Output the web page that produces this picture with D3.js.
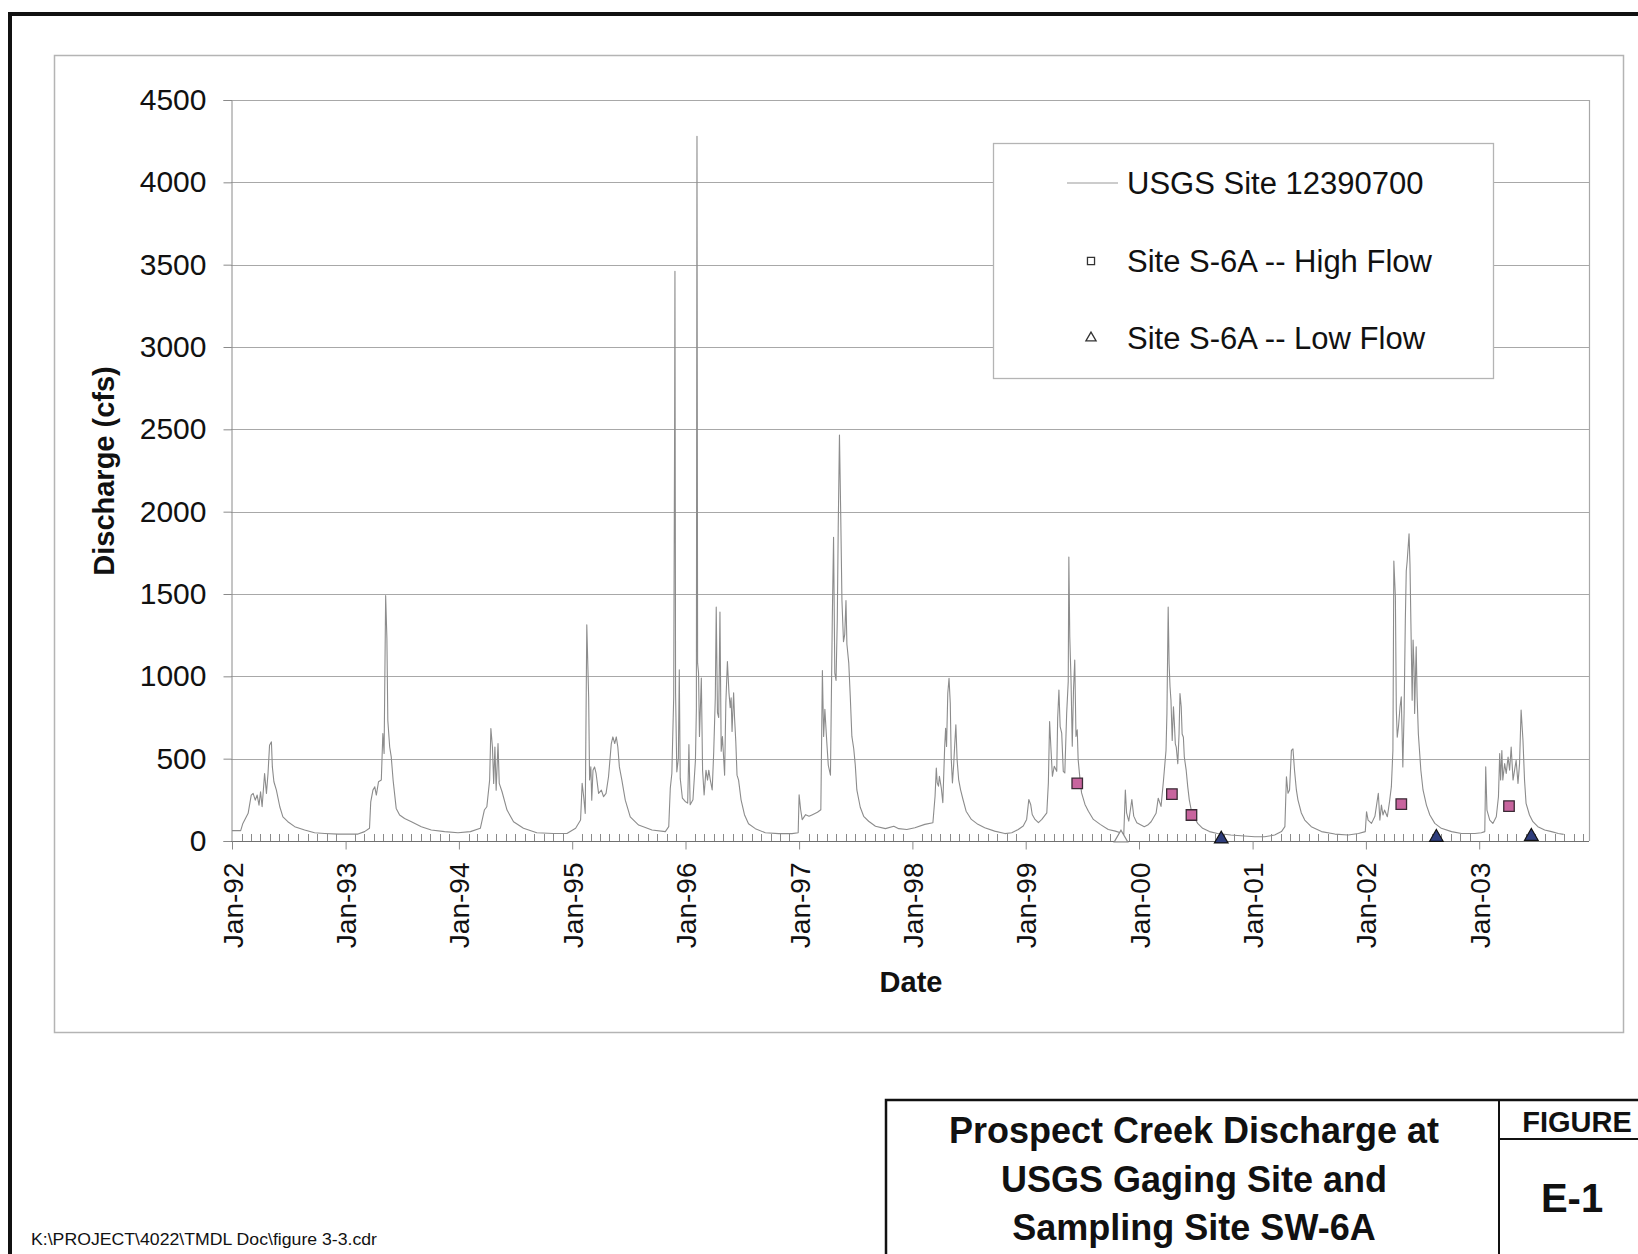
<!DOCTYPE html>
<html><head><meta charset="utf-8">
<script src="https://cdn.jsdelivr.net/npm/d3@7"></script>
<style>body{margin:0;background:#fff;} svg{display:block;font-family:"Liberation Sans",Arial,Helvetica,sans-serif;}</style>
</head><body><svg id="c" width="1638" height="1254"></svg>
<script>
// ---------- DATA ----------
const usgsDischarge = [
["1992-01-01",63],["1992-01-29",63],["1992-02-05",107],["1992-02-22",168],["1992-03-03",279],["1992-03-09",289],["1992-03-16",248],["1992-03-22",279],["1992-03-28",218],["1992-04-02",299],["1992-04-07",208],["1992-04-15",410],["1992-04-21",289],["1992-04-26",410],["1992-05-01",582],["1992-05-07",602],["1992-05-10",450],["1992-05-15",360],["1992-05-23",309],["1992-06-03",208],["1992-06-13",147],["1992-06-29",117],["1992-07-21",87],["1992-08-22",67],["1992-09-23",50],["1992-10-26",46],["1992-12-08",42],
["1993-02-10",42],["1993-03-03",57],["1993-03-19",77],["1993-03-23",238],["1993-03-30",309],["1993-04-05",329],["1993-04-10",279],["1993-04-17",360],["1993-04-26",370],["1993-05-01",653],["1993-05-05",531],["1993-05-10",1490],["1993-05-14",1232],["1993-05-17",731],["1993-05-23",571],["1993-05-28",511],["1993-06-03",370],["1993-06-13",198],["1993-06-24",158],["1993-07-10",137],["1993-08-01",117],["1993-09-02",87],["1993-10-04",67],["1993-11-16",57],["1993-12-29",50],
["1994-02-07",57],["1994-03-11",77],["1994-03-24",188],["1994-04-01",208],["1994-04-10",370],["1994-04-14",683],["1994-04-19",571],["1994-04-23",350],["1994-04-27",571],["1994-05-01",309],["1994-05-07",592],["1994-05-11",350],["1994-05-20",299],["1994-06-05",188],["1994-06-26",117],["1994-07-28",77],["1994-09-09",50],["1994-11-02",46],["1994-12-15",46],
["1995-01-12",77],["1995-01-28",127],["1995-02-02",350],["1995-02-07",269],["1995-02-12",168],["1995-02-17",1313],["1995-02-23",875],["1995-02-26",370],["1995-03-02",450],["1995-03-05",248],["1995-03-09",430],["1995-03-14",450],["1995-03-19",410],["1995-03-27",289],["1995-04-05",309],["1995-04-12",269],["1995-04-20",289],["1995-04-28",390],["1995-05-07",592],["1995-05-12",632],["1995-05-18",592],["1995-05-23",632],["1995-05-28",571],["1995-06-02",450],["1995-06-10",370],["1995-06-21",248],["1995-07-07",147],["1995-08-03",97],["1995-09-15",67],["1995-10-28",57],["1995-11-08",87],["1995-11-13",320],["1995-11-18",410],["1995-11-24",875],["1995-11-27",2550],["1995-11-28",3460],["1995-11-30",900],["1995-12-04",420],["1995-12-09",500],["1995-12-12",1040],["1995-12-15",380],["1995-12-22",260],["1995-12-31",240],
["1996-01-08",230],["1996-01-12",585],["1996-01-16",220],["1996-01-25",250],["1996-02-02",490],["1996-02-05",800],["1996-02-07",4280],["1996-02-09",1080],["1996-02-12",1020],["1996-02-15",635],["1996-02-21",990],["1996-02-25",430],["1996-03-01",280],["1996-03-07",430],["1996-03-12",370],["1996-03-16",430],["1996-03-21",370],["1996-03-27",310],["1996-04-01",545],["1996-04-06",870],["1996-04-09",1420],["1996-04-13",780],["1996-04-17",750],["1996-04-21",1390],["1996-04-25",545],["1996-04-29",635],["1996-05-06",400],["1996-05-10",840],["1996-05-15",1090],["1996-05-20",900],["1996-05-24",810],["1996-05-27",870],["1996-05-30",665],["1996-06-04",900],["1996-06-07",750],["1996-06-11",605],["1996-06-15",400],["1996-06-20",370],["1996-06-28",250],["1996-07-09",160],["1996-07-22",105],["1996-08-13",75],["1996-09-14",50],["1996-10-27",45],["1996-12-09",45],["1996-12-29",50],
["1997-01-01",280],["1997-01-06",190],["1997-01-11",130],["1997-01-22",160],["1997-02-02",150],["1997-02-13",160],["1997-03-01",175],["1997-03-12",190],["1997-03-17",1035],["1997-03-21",635],["1997-03-25",800],["1997-03-31",605],["1997-04-05",460],["1997-04-12",400],["1997-04-18",1360],["1997-04-22",1845],["1997-04-26",1020],["1997-04-30",975],["1997-05-04",1345],["1997-05-07",1900],["1997-05-11",2465],["1997-05-15",1990],["1997-05-19",1460],["1997-05-24",1210],["1997-05-28",1255],["1997-06-01",1460],["1997-06-04",1195],["1997-06-10",1080],["1997-06-15",870],["1997-06-20",635],["1997-06-26",560],["1997-07-01",460],["1997-07-06",310],["1997-07-17",205],["1997-07-28",150],["1997-08-13",120],["1997-09-04",90],["1997-10-06",75],["1997-11-02",90],["1997-11-18",75],["1997-12-14",70],
["1998-01-09",81],["1998-02-10",101],["1998-03-08",111],["1998-03-15",272],["1998-03-19",443],["1998-03-22",353],["1998-03-26",333],["1998-03-29",393],["1998-04-04",323],["1998-04-09",232],["1998-04-15",574],["1998-04-18",685],["1998-04-21",574],["1998-04-25",897],["1998-04-29",988],["1998-05-03",837],["1998-05-06",504],["1998-05-10",353],["1998-05-14",464],["1998-05-17",574],["1998-05-21",706],["1998-05-25",494],["1998-05-30",373],["1998-06-05",312],["1998-06-13",252],["1998-06-23",181],["1998-07-10",131],["1998-07-31",101],["1998-08-22",81],["1998-09-23",60],["1998-10-26",45],["1998-11-17",50],["1998-12-08",70],["1998-12-24",91],
["1999-01-04",131],["1999-01-11",252],["1999-01-17",222],["1999-01-22",161],["1999-01-31",131],["1999-02-11",111],["1999-02-22",131],["1999-03-10",171],["1999-03-15",353],["1999-03-19",726],["1999-03-23",574],["1999-03-28",393],["1999-04-03",454],["1999-04-11",423],["1999-04-14",746],["1999-04-18",917],["1999-04-22",695],["1999-04-27",655],["1999-05-02",423],["1999-05-07",413],["1999-05-13",776],["1999-05-18",968],["1999-05-20",1724],["1999-05-23",1240],["1999-05-27",978],["1999-05-31",575],["1999-06-04",917],["1999-06-08",1099],["1999-06-12",635],["1999-06-16",675],["1999-06-19",494],["1999-06-25",373],["1999-06-30",292],["1999-07-11",222],["1999-07-22",181],["1999-08-07",131],["1999-08-29",101],["1999-09-24",70],["1999-10-17",60],["1999-11-02",50],["1999-11-13",40],["1999-11-18",310],["1999-11-22",171],["1999-11-29",121],["1999-12-09",252],["1999-12-15",151],["1999-12-25",111],
["2000-01-18",87],["2000-01-29",97],["2000-02-09",117],["2000-02-25",168],["2000-03-03",260],["2000-03-12",210],["2000-03-20",370],["2000-03-28",550],["2000-03-31",775],["2000-04-04",1420],["2000-04-07",1075],["2000-04-10",935],["2000-04-13",855],["2000-04-17",610],["2000-04-21",815],["2000-04-24",715],["2000-04-27",590],["2000-04-30",570],["2000-05-05",470],["2000-05-09",650],["2000-05-12",895],["2000-05-16",815],["2000-05-19",650],["2000-05-23",630],["2000-05-26",510],["2000-06-01",430],["2000-06-06",330],["2000-06-11",250],["2000-06-17",190],["2000-06-25",150],["2000-07-08",107],["2000-07-24",77],["2000-08-15",57],["2000-09-10",46],["2000-10-23",36],["2000-12-05",30],
["2001-01-08",26],["2001-02-09",26],["2001-03-13",36],["2001-04-04",57],["2001-04-15",87],["2001-04-20",390],["2001-04-25",290],["2001-04-30",310],["2001-05-06",550],["2001-05-11",560],["2001-05-16",430],["2001-05-22",310],["2001-05-27",250],["2001-06-07",170],["2001-06-18",127],["2001-07-09",87],["2001-08-11",57],["2001-09-23",42],["2001-11-05",36],["2001-12-08",46],["2001-12-30",57],
["2002-01-03",178],["2002-01-08",127],["2002-01-19",107],["2002-01-30",150],["2002-02-10",290],["2002-02-15",127],["2002-02-20",218],["2002-02-25",158],["2002-03-02",188],["2002-03-11",147],["2002-03-18",238],["2002-03-24",330],["2002-03-29",550],["2002-04-01",1700],["2002-04-06",1480],["2002-04-09",795],["2002-04-12",630],["2002-04-16",695],["2002-04-21",815],["2002-04-25",875],["2002-04-30",450],["2002-05-04",775],["2002-05-08",1340],["2002-05-11",1640],["2002-05-14",1700],["2002-05-20",1865],["2002-05-23",1680],["2002-05-26",1320],["2002-05-30",855],["2002-06-02",1220],["2002-06-05",1055],["2002-06-07",775],["2002-06-12",1180],["2002-06-15",875],["2002-06-19",650],["2002-06-27",430],["2002-07-04",310],["2002-07-15",218],["2002-07-26",158],["2002-08-11",107],["2002-09-01",77],["2002-10-04",57],["2002-11-05",46],["2002-12-18",46],
["2003-01-08",50],["2003-01-19",57],["2003-01-22",450],["2003-01-26",188],["2003-02-04",127],["2003-02-14",107],["2003-02-25",147],["2003-03-04",269],["2003-03-08",531],["2003-03-11",370],["2003-03-15",550],["2003-03-18",370],["2003-03-24",470],["2003-03-29",410],["2003-04-04",510],["2003-04-09",430],["2003-04-14",570],["2003-04-20",370],["2003-04-25",430],["2003-04-30",490],["2003-05-06",350],["2003-05-11",470],["2003-05-16",795],["2003-05-22",612],["2003-05-27",370],["2003-06-01",228],["2003-06-12",158],["2003-06-23",117],["2003-07-09",87],["2003-07-31",67],["2003-08-22",57],["2003-09-13",46],["2003-09-30",40]
];
const highFlowDates  = ["1999-06-16","2000-04-16","2000-06-18","2002-04-25","2003-04-07"];
const highFlowValues = [350, 285, 158, 224, 212];
const lowFlowDates   = ["2000-09-22","2002-08-16","2003-06-18"];
const lowFlowValues  = [12, 22, 28];
const lowFlowOpenDates  = ["1999-11-04"];
const lowFlowOpenValues = [18];
const yTickValues = [0,500,1000,1500,2000,2500,3000,3500,4000,4500];
const legendLabels = ["USGS Site 12390700","Site S-6A -- High Flow","Site S-6A -- Low Flow"];
const titleLines = ["Prospect Creek Discharge at","USGS Gaging Site and","Sampling Site SW-6A"];
const figureLabel = "FIGURE";
const figureNumber = "E-1";
const filePath = "K:\\PROJECT\\4022\\TMDL Doc\\figure 3-3.cdr";
const xTitle = "Date", yTitle = "Discharge (cfs)";

// ---------- DRAW ----------
const parse = d3.timeParse("%Y-%m-%d");
const svg = d3.select("#c");
const L = 231, R = 1589, T = 100, B = 841;
const x = d3.scaleTime().domain([parse("1992-01-01"), parse("2004-01-01")]).range([232, 1592.5]);
const y = d3.scaleLinear().domain([0, 4500]).range([B, T]);

svg.append("rect").attr("width",1638).attr("height",1254).attr("fill","#fff");

// outer frame
svg.append("line").attr("x1",8).attr("x2",1638).attr("y1",14).attr("y2",14).attr("stroke","#111").attr("stroke-width",4);
svg.append("line").attr("x1",10).attr("x2",10).attr("y1",12).attr("y2",1254).attr("stroke","#111").attr("stroke-width",4);

// chart area box
svg.append("rect").attr("x",54.5).attr("y",55.5).attr("width",1569).attr("height",977)
  .attr("fill","none").attr("stroke","#b4b4b4").attr("stroke-width",1.5);

// gridlines
svg.append("g").selectAll("line").data(yTickValues.filter(d=>d>0)).join("line")
  .attr("x1",L).attr("x2",R).attr("y1",d=>Math.round(y(d))+0.5).attr("y2",d=>Math.round(y(d))+0.5)
  .attr("stroke","#a8a8a8").attr("stroke-width",1.2);
svg.append("line").attr("x1",R+0.5).attr("x2",R+0.5).attr("y1",T).attr("y2",B).attr("stroke","#a8a8a8").attr("stroke-width",1.2);

// Y axis
const yAxis = svg.append("g").attr("transform",`translate(${L+0.5},0)`)
  .call(d3.axisLeft(y).tickValues(yTickValues).tickSize(8).tickPadding(17).tickFormat(d3.format("d")));
yAxis.select(".domain").attr("stroke","#8a8a8a");
yAxis.selectAll(".tick line").attr("stroke","#8a8a8a");
yAxis.selectAll("text").attr("font-size",30).attr("fill","#111").attr("font-family","Liberation Sans, Arial, sans-serif");

// X axis (minor monthly ticks inside)
const months = d3.timeMonth.range(parse("1992-02-01"), parse("2004-01-01"));
svg.append("g").selectAll("line").data(months.filter(d=>d.getMonth()!==0)).join("line")
  .attr("x1",d=>Math.round(x(d))+0.5).attr("x2",d=>Math.round(x(d))+0.5)
  .attr("y1",B).attr("y2",B-7).attr("stroke","#8a8a8a").attr("stroke-width",1);
const xAxis = svg.append("g").attr("transform",`translate(0,${B+0.5})`)
  .call(d3.axisBottom(x).ticks(d3.timeYear.every(1)).tickSize(8).tickFormat(d3.timeFormat("%b-%y")));
xAxis.select(".domain").attr("stroke","#707070").attr("d",`M${L},0H${R}`);
xAxis.selectAll(".tick").filter(d=>d.getFullYear()>2003).remove();
xAxis.selectAll(".tick line").attr("stroke","#8a8a8a");
xAxis.selectAll("text").attr("font-size",28).attr("fill","#111")
  .attr("transform","rotate(-90)").attr("text-anchor","end")
  .attr("x",-21).attr("y",0).attr("dy","0.36em");

// hydrograph
const line = d3.line().x(d=>x(parse(d[0]))).y(d=>y(d[1]));
svg.append("path").datum(usgsDischarge).attr("d",line)
  .attr("fill","none").attr("stroke","#8c8c8c").attr("stroke-width",1.1).attr("stroke-linejoin","round");

// markers
const sq = d3.symbol().type(d3.symbolSquare).size(110);
svg.append("g").selectAll("path").data(highFlowDates.map((d,i)=>[d,highFlowValues[i]])).join("path")
  .attr("d",sq).attr("transform",d=>`translate(${x(parse(d[0]))},${y(d[1])})`)
  .attr("fill","#c8649e").attr("stroke","#3a2a35").attr("stroke-width",1.3);
const tri = d3.symbol().type(d3.symbolTriangle).size(80);
svg.append("g").selectAll("path").data(lowFlowOpenDates.map((d,i)=>[d,lowFlowOpenValues[i]])).join("path")
  .attr("d",tri).attr("transform",d=>`translate(${x(parse(d[0]))},${y(d[1])})`)
  .attr("fill","#fff").attr("stroke","#888").attr("stroke-width",1.2);
svg.append("g").selectAll("path").data(lowFlowDates.map((d,i)=>[d,lowFlowValues[i]])).join("path")
  .attr("d",tri).attr("transform",d=>`translate(${x(parse(d[0]))},${y(d[1])})`)
  .attr("fill","#2e3d7c").attr("stroke","#111").attr("stroke-width",1.2);

// axis titles
svg.append("text").attr("x",911).attr("y",992).attr("text-anchor","middle")
  .attr("font-size",29).attr("font-weight","bold").attr("fill","#111").text(xTitle);
svg.append("text").attr("transform","translate(114,471) rotate(-90)").attr("text-anchor","middle")
  .attr("font-size",29).attr("font-weight","bold").attr("fill","#111").text(yTitle);

// legend
const lg = svg.append("g");
lg.append("rect").attr("x",993.5).attr("y",143.5).attr("width",500).attr("height",235)
  .attr("fill","#fff").attr("stroke","#b4b4b4").attr("stroke-width",1.3);
const rowsY = [183, 261, 338];
lg.append("line").attr("x1",1067).attr("x2",1118).attr("y1",rowsY[0]).attr("y2",rowsY[0]).attr("stroke","#999").attr("stroke-width",1.2);
lg.append("path").attr("d",d3.symbol().type(d3.symbolSquare).size(50)).attr("transform",`translate(1091,${rowsY[1]})`)
  .attr("fill","#fff").attr("stroke","#333").attr("stroke-width",1.3);
lg.append("path").attr("d",d3.symbol().type(d3.symbolTriangle).size(45)).attr("transform",`translate(1091,${rowsY[2]})`)
  .attr("fill","#fff").attr("stroke","#333").attr("stroke-width",1.3);
lg.selectAll("text.lab").data(legendLabels).join("text").attr("class","lab")
  .attr("x",1127).attr("y",(d,i)=>rowsY[i]).attr("dy","0.35em")
  .attr("font-size",31).attr("fill","#111").text(d=>d);

// title block
svg.append("rect").attr("x",886).attr("y",1100).attr("width",900).attr("height",300)
  .attr("fill","none").attr("stroke","#111").attr("stroke-width",2.5);
svg.append("line").attr("x1",1499).attr("x2",1499).attr("y1",1100).attr("y2",1254).attr("stroke","#111").attr("stroke-width",2);
svg.append("line").attr("x1",1499).attr("x2",1638).attr("y1",1139).attr("y2",1139).attr("stroke","#111").attr("stroke-width",2);
svg.selectAll("text.tl").data(titleLines).join("text").attr("class","tl")
  .attr("x",1194).attr("y",(d,i)=>1143 + i*48.5).attr("text-anchor","middle")
  .attr("font-size",36).attr("font-weight","bold").attr("fill","#111").text(d=>d);
svg.append("text").attr("x",1577).attr("y",1132).attr("text-anchor","middle")
  .attr("font-size",29).attr("font-weight","bold").attr("fill","#111").text(figureLabel);
svg.append("text").attr("x",1572).attr("y",1212).attr("text-anchor","middle")
  .attr("font-size",40).attr("font-weight","bold").attr("fill","#111").text(figureNumber);

// file path
svg.append("text").attr("x",31).attr("y",1245).attr("font-size",17).attr("fill","#111")
  .attr("textLength",346).attr("lengthAdjust","spacingAndGlyphs").text(filePath);
</script>
</body></html>
